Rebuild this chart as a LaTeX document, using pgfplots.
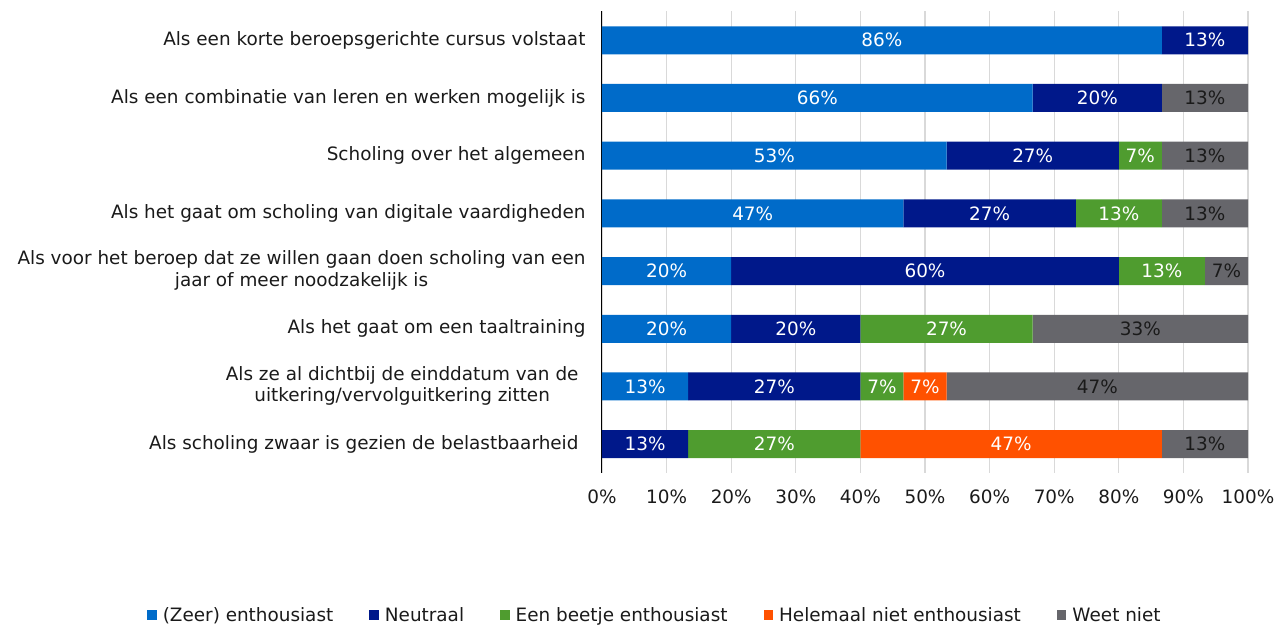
\documentclass[border=0pt]{standalone}
\usepackage{pgfplots}
\pgfplotsset{compat=1.18}
\usepackage{fontspec}
\setmainfont{DejaVu Sans}
\definecolor{cBlue}{HTML}{006BC9}
\definecolor{cNavy}{HTML}{00188A}
\definecolor{cGreen}{HTML}{4F9C2F}
\definecolor{cOrange}{HTML}{FF5100}
\definecolor{cGray}{HTML}{66666B}
\definecolor{cGrid}{HTML}{D9D9D9}
\definecolor{cText}{HTML}{1A1A1A}
\newcommand{\ff}{\fontsize{18.4}{21.5}\selectfont}
\begin{document}
\begin{tikzpicture}
\path[use as bounding box] (0pt,0pt) rectangle (1283pt,-625pt);
\pgfplotsset{
  common/.style={
    at={(602pt,-473pt)}, anchor=south west,
    scale only axis, width=646pt, height=461.6pt,
    xmin=0, xmax=100, ymin=0.5, ymax=8.5, y dir=reverse,
    font=\ff,
  }
}
\begin{axis}[
  common,
  xbar stacked, bar width=28pt,
  xtick={0,10,...,100},
  xticklabel={\pgfmathprintnumber{\tick}\%},
  /pgf/number format/assume math mode=true,
  xticklabel style={text=cText, yshift=-13pt},
  ytick={1,...,8},
  yticklabels={
    {Als een korte beroepsgerichte cursus volstaat},
    {Als een combinatie van leren en werken mogelijk is},
    {Scholing over het algemeen},
    {Als het gaat om scholing van digitale vaardigheden},
    {\begin{tabular}{@{}c@{}}Als voor het beroep dat ze willen gaan doen scholing van een\\jaar of meer noodzakelijk is\end{tabular}},
    {Als het gaat om een taaltraining},
    {\begin{tabular}{@{}c@{}}Als ze al dichtbij de einddatum van de\\uitkering/vervolguitkering zitten\end{tabular}\rule{7pt}{0pt}},
    {Als scholing zwaar is gezien de belastbaarheid\rule{7pt}{0pt}},
  },
  yticklabel style={text=cText, xshift=-13pt},
  major tick length=0pt,
  xmajorgrids, grid style={cGrid, line width=1.2pt},
  axis y line*=left, axis x line*=bottom,
  x axis line style={draw=none},
  y axis line style={-, black, line width=1pt},
  legend columns=5,
  legend style={draw=none, fill=none, at={(-0.709,-0.3076)}, anchor=west,
    font=\ff, text=cText,
    /tikz/every even column/.append style={column sep=34pt},
    /tikz/every odd column/.append style={column sep=4pt}},
  legend image code/.code={\fill[#1] (0pt,-4.8pt) rectangle (9.6pt,4.8pt);},
]
\addplot[fill=cBlue, draw=none] coordinates {(86.67,1) (66.67,2) (53.33,3) (46.67,4) (20,5) (20,6) (13.33,7) (0,8)};
\addplot[fill=cNavy, draw=none] coordinates {(13.33,1) (20,2) (26.67,3) (26.67,4) (60,5) (20,6) (26.67,7) (13.33,8)};
\addplot[fill=cGreen, draw=none] coordinates {(0,1) (0,2) (6.67,3) (13.33,4) (13.33,5) (26.67,6) (6.67,7) (26.67,8)};
\addplot[fill=cOrange, draw=none] coordinates {(0,1) (0,2) (0,3) (0,4) (0,5) (0,6) (6.67,7) (46.67,8)};
\addplot[fill=cGray, draw=none] coordinates {(0,1) (13.33,2) (13.33,3) (13.33,4) (6.67,5) (33.33,6) (46.67,7) (13.33,8)};
\legend{(Zeer) enthousiast, Neutraal, Een beetje enthousiast, Helemaal niet enthousiast, Weet niet}
\end{axis}
\begin{axis}[common, hide axis,
  nodes near coords, point meta=explicit symbolic,
  nodes near coords align={center},
  every node near coord/.append style={font=\ff, inner sep=0pt}]
\addplot[draw=none, mark=none, nodes near coords style={text=white}] coordinates {
 (43.33,1) [86\%] (33.33,2) [66\%] (26.67,3) [53\%] (23.33,4) [47\%] (10,5) [20\%] (10,6) [20\%] (6.67,7) [13\%]
 (93.33,1) [13\%] (76.67,2) [20\%] (66.67,3) [27\%] (60,4) [27\%] (50,5) [60\%] (30,6) [20\%] (26.67,7) [27\%] (6.67,8) [13\%]
 (83.33,3) [7\%] (80,4) [13\%] (86.67,5) [13\%] (53.33,6) [27\%] (43.33,7) [7\%] (26.67,8) [27\%]
 (50,7) [7\%] (63.33,8) [47\%]};
\addplot[draw=none, mark=none, nodes near coords style={text=cText}] coordinates {
 (93.33,2) [13\%] (93.33,3) [13\%] (93.33,4) [13\%] (96.67,5) [7\%] (83.33,6) [33\%] (76.67,7) [47\%] (93.33,8) [13\%]};
\end{axis}
\end{tikzpicture}
\end{document}
